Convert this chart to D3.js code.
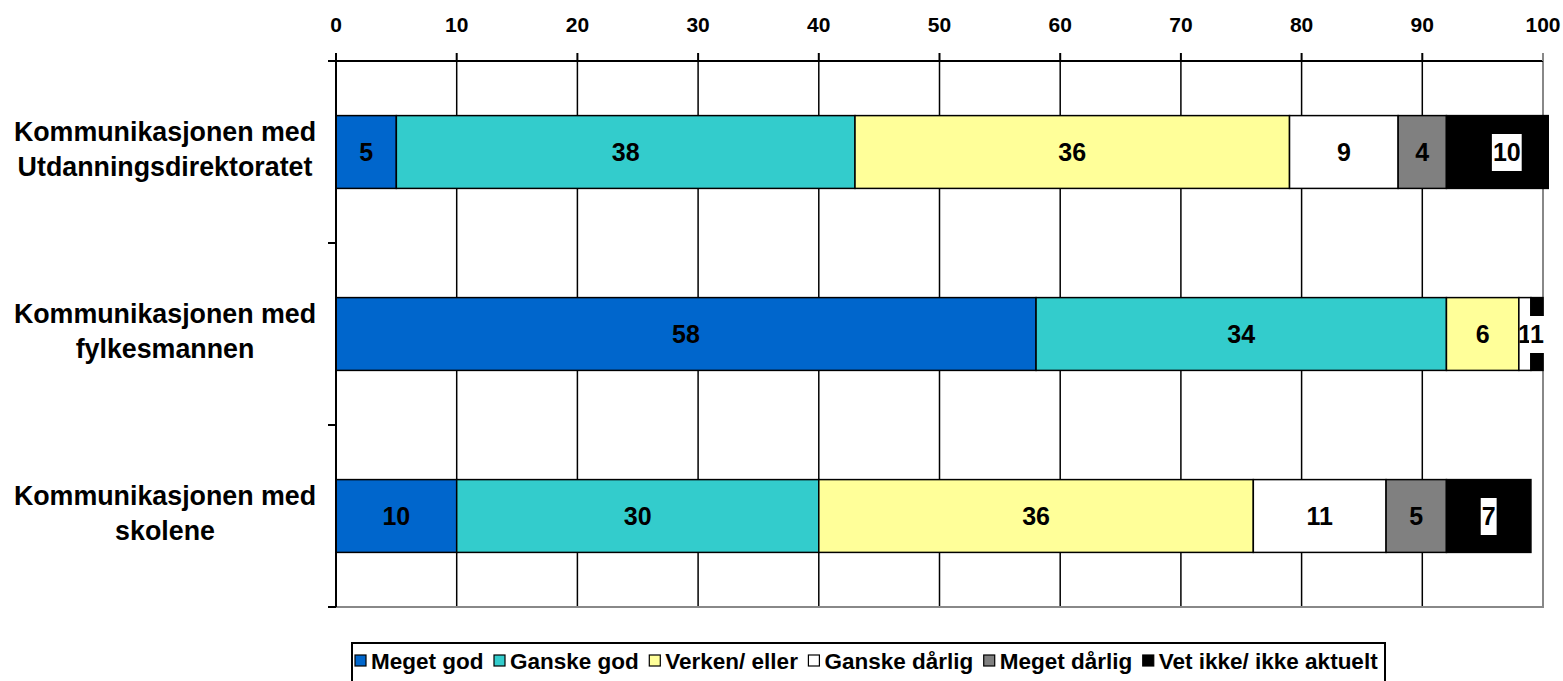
<!DOCTYPE html>
<html>
<head>
<meta charset="utf-8">
<script src="https://cdn.jsdelivr.net/npm/d3@7"></script>
<style>
  html, body { margin: 0; padding: 0; background: #ffffff; }
  svg { display: block; font-family: "Liberation Sans", Arial, sans-serif; font-weight: bold; }
</style>
</head>
<body>
<div id="chart"></div>
<script>
// stablet søylediagram: vurdering av kommunikasjon
const CATEGORIES = [
  ["Kommunikasjonen med", "Utdanningsdirektoratet"],
  ["Kommunikasjonen med", "fylkesmannen"],
  ["Kommunikasjonen med", "skolene"],
];
const SERIES = ["Meget god", "Ganske god", "Verken/ eller", "Ganske dårlig", "Meget dårlig", "Vet ikke/ ikke aktuelt"];
const COLORS = ["#0066cc", "#33cccc", "#ffff99", "#ffffff", "#808080", "#000000"];
// en rad per kategori, en verdi per serie
const VALUES = [
  [5, 38, 36, 9, 4, 10],
  [58, 34, 6, 1, 0, 1],
  [10, 30, 36, 11, 5, 7],
];
const TICKS = [0, 10, 20, 30, 40, 50, 60, 70, 80, 90, 100];

const W = 1563, H = 681;
const m = { left: 336, right: 20, top: 61, bottom: 74 };

const svg = d3.select("#chart").append("svg").attr("width", W).attr("height", H);

const x = d3.scaleLinear().domain([0, 100]).range([m.left, W - m.right]);
const y = d3.scaleBand().domain(d3.range(CATEGORIES.length)).range([m.top, H - m.bottom]).paddingInner(0.6).paddingOuter(0.3);
const step = y.step();
const y0 = m.top, y1 = H - m.bottom;

// gitterlinjer
svg.append("g")
  .selectAll("line")
  .data(TICKS.filter((t) => t > 0 && t < 100))
  .join("line")
  .attr("x1", (d) => x(d)).attr("x2", (d) => x(d))
  .attr("y1", y0).attr("y2", y1)
  .attr("stroke", "#000").attr("stroke-width", 1.5);

// ramme høyre/nede (grå)
svg.append("path")
  .attr("d", `M${x(100)},${y0 - 8}V${y1}H${x(0)}`)
  .attr("fill", "none").attr("stroke", "#888").attr("stroke-width", 2);

// stablede segmenter
const stack = VALUES.map((row, i) => {
  let acc = 0;
  return row.map((v, s) => {
    const seg = { cat: i, s, v, a: acc, b: acc + v };
    acc += v;
    return seg;
  });
});

svg.append("clipPath").attr("id", "clip")
  .append("rect").attr("x", 0).attr("y", 0).attr("width", x(100.5)).attr("height", H);

const bars = svg.append("g").attr("clip-path", "url(#clip)");
bars.selectAll("rect")
  .data(stack.flat().filter((d) => d.v > 0))
  .join("rect")
  .attr("x", (d) => x(d.a))
  .attr("y", (d) => y(d.cat))
  .attr("width", (d) => x(d.b) - x(d.a))
  .attr("height", y.bandwidth())
  .attr("fill", (d) => COLORS[d.s])
  .attr("stroke", "#000").attr("stroke-width", 1.5);

// dataetiketter
const labels = svg.append("g");
for (const d of stack.flat().filter((d) => d.v > 0)) {
  const cx = x((d.a + d.b) / 2);
  const cy = y(d.cat) + y.bandwidth() / 2;
  const g = labels.append("g");
  const t = g.append("text")
    .attr("x", cx).attr("y", cy + 9)
    .attr("text-anchor", "middle")
    .attr("font-size", 25)
    .attr("fill", "#000")
    .text(d.v);
  if (d.s === SERIES.length - 1) {
    const w = t.node().getComputedTextLength();
    g.insert("rect", "text")
      .attr("x", cx - w / 2 - 1).attr("y", cy - 18)
      .attr("width", w + 2).attr("height", 37)
      .attr("fill", "#fff");
  }
}

// toppakse
const axis = svg.append("g");
axis.append("line")
  .attr("x1", x(0) - 8).attr("x2", x(100))
  .attr("y1", y0).attr("y2", y0)
  .attr("stroke", "#000").attr("stroke-width", 2);
axis.selectAll("line.tick")
  .data(TICKS)
  .join("line").attr("class", "tick")
  .attr("x1", (d) => x(d)).attr("x2", (d) => x(d))
  .attr("y1", y0 - 8).attr("y2", y0)
  .attr("stroke", (d) => (d === 100 ? "#888" : "#000")).attr("stroke-width", 2);
axis.selectAll("text")
  .data(TICKS)
  .join("text")
  .attr("x", (d) => x(d)).attr("y", 32)
  .attr("text-anchor", "middle")
  .attr("font-size", 21)
  .text((d) => d);

// venstre akse
svg.append("line")
  .attr("x1", x(0)).attr("x2", x(0))
  .attr("y1", y0).attr("y2", y1)
  .attr("stroke", "#000").attr("stroke-width", 2);
svg.append("g")
  .selectAll("line")
  .data(d3.range(CATEGORIES.length + 1))
  .join("line")
  .attr("x1", x(0) - 8).attr("x2", x(0))
  .attr("y1", (i) => y0 + i * step).attr("y2", (i) => y0 + i * step)
  .attr("stroke", "#000").attr("stroke-width", 2);

// kategorinavn
svg.append("g")
  .selectAll("text")
  .data(CATEGORIES)
  .join("text")
  .attr("text-anchor", "middle")
  .attr("font-size", 26.8)
  .attr("transform", (d, i) => `translate(165,${y(i) + y.bandwidth() / 2})`)
  .selectAll("tspan")
  .data((d) => d)
  .join("tspan")
  .attr("x", 0)
  .attr("y", (d, j) => (j === 0 ? -11 : 24))
  .text((d) => d);

// forklaring
const leg = svg.append("g");
leg.append("rect")
  .attr("x", 352).attr("y", 643)
  .attr("width", 1033).attr("height", 50)
  .attr("fill", "#fff").attr("stroke", "#000").attr("stroke-width", 2);
let lx = 355;
SERIES.forEach((name, i) => {
  leg.append("rect")
    .attr("x", lx).attr("y", 655)
    .attr("width", 11).attr("height", 11)
    .attr("fill", COLORS[i]).attr("stroke", "#000").attr("stroke-width", 1.2);
  const t = leg.append("text")
    .attr("x", lx + 16).attr("y", 669)
    .attr("font-size", 22.5)
    .text(name);
  lx += 16 + t.node().getComputedTextLength() + 10.5;
});
</script>
</body>
</html>
